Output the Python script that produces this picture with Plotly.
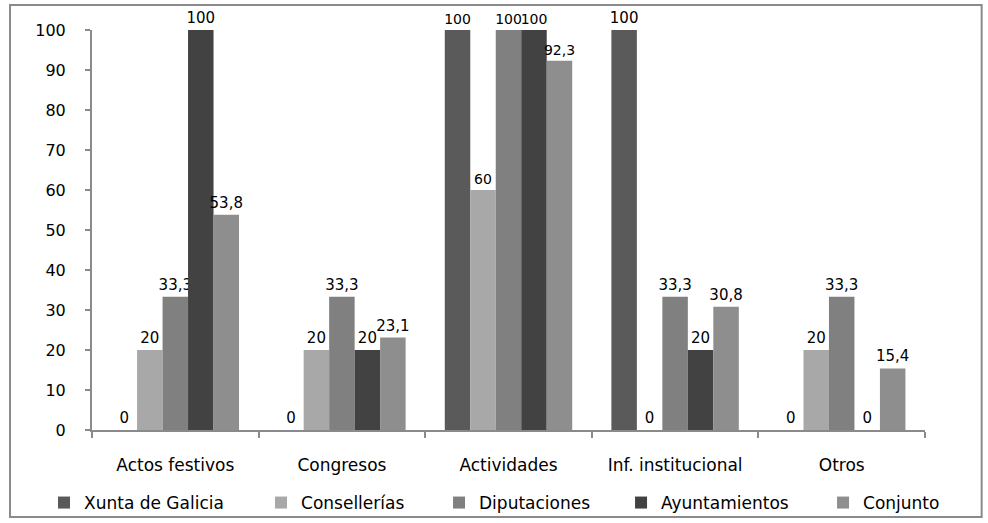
import plotly.graph_objects as go

categories = ["Actos festivos", "Congresos", "Actividades", "Inf. institucional", "Otros"]

series_names = ["Xunta de Galicia", "Consellerías", "Diputaciones", "Ayuntamientos", "Conjunto"]
xunta = [0, 0, 100, 100, 0]
consellerias = [20, 20, 60, 0, 20]
diputaciones = [33.3, 33.3, 100, 33.3, 33.3]
ayuntamientos = [100, 20, 100, 20, 0]
conjunto = [53.8, 23.1, 92.3, 30.8, 15.4]

y_ticks = [0, 10, 20, 30, 40, 50, 60, 70, 80, 90, 100]

colors = ["#5a5a5a", "#a8a8a8", "#808080", "#424242", "#8e8e8e"]
series_values = [xunta, consellerias, diputaciones, ayuntamientos, conjunto]

# one legend box per series, laid out in a row under the axis
legend_x = [-0.0576, 0.2029, 0.4166, 0.6351, 0.8776]
legend_ids = ["legend", "legend2", "legend3", "legend4", "legend5"]

FONT = "DejaVu Sans"
LABEL_SIZE = 15
CROWDED_SIZE = 14   # the full-height group has labels almost touching


def fmt(v):
    # decimal comma, as in the Galician/Spanish source
    return f"{v:g}".replace(".", ",")


fig = go.Figure()
for name, vals, col, lid in zip(series_names, series_values, colors, legend_ids):
    sizes = [CROWDED_SIZE if c == "Actividades" else LABEL_SIZE for c in categories]
    fig.add_trace(go.Bar(
        name=name,
        x=categories,
        y=vals,
        marker=dict(color=col, line=dict(width=0)),
        text=[fmt(v) for v in vals],
        textposition="outside",
        textfont=dict(family=FONT, size=sizes, color="#000000"),
        constraintext="none",
        cliponaxis=False,
        legend=lid,
    ))

# outer frame of the chart area
fig.add_shape(
    type="rect", xref="paper", yref="paper",
    x0=-0.0984, x1=1.068, y0=-0.2175, y1=1.0625,
    line=dict(color="#8a8a8a", width=2), fillcolor="rgba(0,0,0,0)", layer="below",
)

legend_style = dict(
    orientation="h",
    xanchor="left",
    y=-0.1825, yanchor="middle",
    font=dict(family=FONT, size=17, color="#000000"),
    bgcolor="rgba(0,0,0,0)",
    itemwidth=30,
)

fig.update_layout(
    width=988, height=523,
    margin=dict(l=92, r=63, t=30, b=93, autoexpand=False),
    paper_bgcolor="#ffffff",
    plot_bgcolor="#ffffff",
    barmode="group",
    bargap=0.235,
    bargroupgap=0,
    font=dict(family=FONT, size=16, color="#000000"),
    showlegend=True,
)
for lid, lx in zip(legend_ids, legend_x):
    fig.update_layout({lid: dict(legend_style, x=lx)})

fig.update_xaxes(
    type="category",
    showline=True, linecolor="#8a8a8a", linewidth=2,
    ticks="outside", tickson="boundaries", ticklen=6, tickcolor="#8a8a8a", tickwidth=2,
    showgrid=False, zeroline=False,
    tickfont=dict(family=FONT, size=17, color="#000000"),
    ticklabelstandoff=19,
)
fig.update_yaxes(
    range=[0, 100],
    tickvals=y_ticks,
    showline=True, linecolor="#8a8a8a", linewidth=2,
    ticks="outside", ticklen=5, tickcolor="#8a8a8a", tickwidth=2,
    showgrid=False, zeroline=False,
    tickfont=dict(family=FONT, size=16, color="#000000"),
    ticklabelstandoff=16,
)

fig.write_html("out.html")
